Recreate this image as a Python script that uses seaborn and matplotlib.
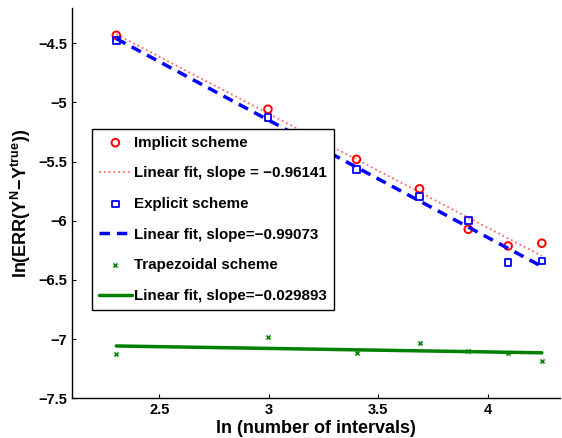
import numpy as np
import pandas as pd
import seaborn as sns
import matplotlib
matplotlib.use("Agg")
import matplotlib.pyplot as plt

sns.set_style("ticks")
plt.rcParams['font.family'] = ['Liberation Sans', 'DejaVu Sans']
plt.rcParams['font.weight'] = 'bold'
plt.rcParams['text.color'] = 'black'
plt.rcParams['axes.labelcolor'] = 'black'
plt.rcParams['mathtext.fontset'] = 'custom'
plt.rcParams['mathtext.bf'] = 'Liberation Sans:bold'
plt.rcParams['mathtext.rm'] = 'Liberation Sans:bold'

# ln(number of intervals): N = 10, 20, ..., 70
ln_n = [2.303, 2.996, 3.401, 3.689, 3.912, 4.094, 4.248]
implicit = [-4.432, -5.057, -5.481, -5.730, -6.072, -6.213, -6.190]
explicit = [-4.475, -5.127, -5.566, -5.797, -6.000, -6.354, -6.342]
trapezoidal = [-7.129, -6.986, -7.115, -7.034, -7.098, -7.115, -7.188]

labels = ["Implicit scheme", "Linear fit, slope = \u22120.96141",
          "Explicit scheme", "Linear fit, slope=\u22120.99073",
          "Trapezoidal scheme", "Linear fit, slope=\u22120.029893"]

df = pd.DataFrame({"x": ln_n, "imp": implicit, "exp": explicit, "trap": trapezoidal})

fig = plt.figure(figsize=(5.62, 4.38), dpi=100)
ax = fig.add_axes([0.128, 0.091, 0.868, 0.891])

green = (0, 0.5, 0)
handles = []

sns.scatterplot(data=df, x="x", y="imp", ax=ax, marker="o", s=30,
                facecolor="none", edgecolor="red", linewidth=1.4)
handles.append(ax.collections[-1])
sns.regplot(data=df, x="x", y="imp", ax=ax, scatter=False, ci=None,
            line_kws=dict(color="red", ls=":", lw=1.3, alpha=0.6))
handles.append(ax.lines[-1])
sns.scatterplot(data=df, x="x", y="exp", ax=ax, marker="s", s=22,
                facecolor="none", edgecolor="blue", linewidth=1.3)
handles.append(ax.collections[-1])
sns.regplot(data=df, x="x", y="exp", ax=ax, scatter=False, ci=None,
            line_kws=dict(color="blue", ls=(0, (3, 2)), lw=2.5))
handles.append(ax.lines[-1])
sns.scatterplot(data=df, x="x", y="trap", ax=ax, marker="X", s=18,
                color=green, linewidth=0.3)
handles.append(ax.collections[-1])
sns.regplot(data=df, x="x", y="trap", ax=ax, scatter=False, ci=None,
            line_kws=dict(color=green, ls="-", lw=2.5))
handles.append(ax.lines[-1])

ax.set_xlim(2.1, 4.33)
ax.set_ylim(-7.5, -4.2)
ax.set_xticks([2.5, 3, 3.5, 4])
ax.set_xticklabels(["2.5", "3", "3.5", "4"])
ax.set_yticks([-7.5, -7, -6.5, -6, -5.5, -5, -4.5])
ax.set_yticklabels(["\u22127.5", "\u22127", "\u22126.5", "\u22126", "\u22125.5", "\u22125", "\u22124.5"])
ax.tick_params(direction="in", length=3, width=0.8, labelsize=10.5, colors="black")
for t in ax.get_xticklabels() + ax.get_yticklabels():
    t.set_fontweight("bold")
sns.despine(ax=ax)
for s in ["left", "bottom"]:
    ax.spines[s].set_color("black")
    ax.spines[s].set_linewidth(1.0)

ax.set_xlabel("ln (number of intervals)", fontsize=13, fontweight="bold", labelpad=2)
ax.set_ylabel(r"$\mathbf{ln(ERR(Y^{N}\!-\!Y^{true}))}$", fontsize=13, labelpad=4)

leg = ax.legend(handles, labels, loc="upper left",
                bbox_to_anchor=(0.041, 0.69), borderaxespad=0, fancybox=False,
                framealpha=1, edgecolor="black", fontsize=10.9, labelspacing=1.1,
                handlelength=2.2, handletextpad=0.15, borderpad=0.45, scatterpoints=1)
leg.get_frame().set_linewidth(1.0)
for t in leg.get_texts():
    t.set_fontweight("bold")
    t.set_color("black")

fig.savefig("out.png", dpi=100)
